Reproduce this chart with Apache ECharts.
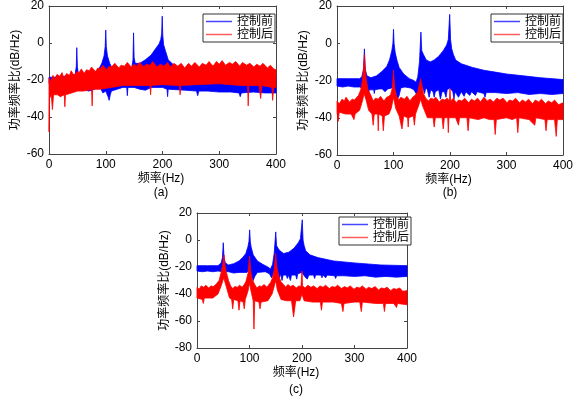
<!DOCTYPE html>
<html>
<head>
<meta charset="utf-8">
<script src="https://cdn.jsdelivr.net/npm/echarts@6/dist/echarts.min.js"></script>
<style>
  html, body { margin: 0; padding: 0; background: #fff; }
  #chart { width: 577px; height: 398px; }
</style>
</head>
<body>
<div id="chart"></div>
<script>
// 频率(Hz) 刻度
var freqTicks = [0, 100, 200, 300, 400];
var seriesNames = ['控制前', '控制后'];
var panelLabels = ['(a)', '(b)', '(c)'];

// 每条谱线的上、下包络 [频率, dB/Hz]
// (a)
var aBlueHi = [[0,-18.5],[10,-18.5],[20,-18],[30,-18],[40,-17.5],[46,-17],[48,-13],[49,-2.5],[50,-13],[52,-17],[60,-17],[70,-16.5],[80,-16],[88,-14],[93,-11],[97,-7],[99,-2],[100,7],[101,-2],[103,-7],[107,-11],[112,-14],[120,-15],[130,-15],[140,-15],[146,-13],[148,-9],[149,5.5],[150,-8],[152,-11],[160,-11],[170,-9],[180,-6.5],[188,-3],[194,-0.5],[197,2],[198.5,5],[199.5,14.5],[200.5,4],[202,-1],[205,-4],[210,-9],[220,-12],[230,-13.5],[250,-15],[280,-16],[320,-17],[360,-18],[400,-18.5]];
var aBlueLo = [[0,-22],[10,-23],[20,-24],[30,-25],[40,-25],[50,-25],[60,-25],[70,-26],[80,-25],[90,-24],[95,-27],[100,-26],[104,-29],[106,-31],[108,-28],[110,-26],[120,-25],[130,-24],[137,-24],[138,-28.5],[139,-24],[150,-24],[160,-25],[170,-25.5],[180,-24],[200,-24],[208,-25],[209,-29],[210,-25],[240,-25.5],[260,-26],[262,-28.5],[264,-26],[280,-26],[300,-26.5],[320,-26.5],[335,-27],[337,-29],[339,-27],[360,-26.5],[380,-27],[400,-27]];
var aRedHi = [[0,-19],[3,-20.5],[7,-17.5],[10,-19.5],[14,-17],[19,-18],[23,-16],[26,-19],[31,-16.5],[36,-17.5],[39,-15],[44,-17.5],[49,-15.5],[53,-16],[57,-14],[62,-16.5],[66,-14.5],[71,-15],[75,-13],[82,-15.5],[86,-13.5],[90,-14],[95,-12],[101,-14.5],[106,-12.5],[110,-13],[116,-11],[123,-13.5],[127,-12],[133,-12.5],[138,-10.5],[145,-13],[150,-11.5],[154,-12.5],[160,-10.5],[167,-13],[171,-11.5],[178,-12],[183,-10],[190,-13],[196,-11.5],[203,-12.5],[209,-10.5],[214,-13],[220,-11],[227,-12.5],[233,-11],[239,-13.5],[246,-11],[251,-12.5],[257,-10.5],[265,-13],[270,-11],[277,-12],[282,-10],[289,-12.5],[295,-10],[300,-11.5],[305,-9.5],[311,-12],[318,-10.5],[323,-11.5],[329,-10],[336,-12.5],[341,-10.5],[348,-12],[354,-11],[361,-13],[366,-11.5],[372,-12.5],[377,-11],[385,-13.5],[390,-12],[396,-14],[400,-14.5]];
var aRedLo = [[0,-48],[1,-30],[4,-28],[6,-36],[8,-28],[15,-28],[20,-29],[27,-28],[28,-34.5],[29,-28],[40,-27],[50,-26],[60,-26],[70,-25.5],[75,-25],[76,-34],[77,-25],[90,-25],[110,-24],[130,-23],[150,-23],[170,-23],[178,-23],[179,-28],[180,-23],[200,-22.5],[230,-23],[231,-28],[232,-23],[260,-22.5],[300,-22],[320,-22.5],[340,-23],[350,-23],[351,-34],[352,-23],[370,-23],[373,-30],[375,-23],[393,-24],[394,-31],[396,-24],[400,-24]];
// (b)
var bBlueHi = [[0,-19],[20,-19],[40,-19],[44,-18],[47,-14],[48.5,-3],[50,-14],[53,-17.5],[60,-18.5],[70,-17.5],[80,-15],[88,-12.5],[93,-9],[97,-4],[99,0],[100,7.5],[101,0],[103,-5],[106,-9],[110,-13],[118,-16.5],[128,-19],[136,-20],[140,-21],[143,-18],[146,-10],[148.5,6],[150,-4],[153,-6],[158,-9],[165,-10],[172,-9],[180,-7],[188,-4],[194,-1],[197,2],[199.5,15.5],[201,2],[203,-3],[206,-6],[210,-9],[220,-11],[240,-13],[260,-14.5],[280,-15.5],[300,-16.5],[330,-17.5],[360,-18.5],[400,-19.5]];
var bBlueLo = [[0,-23],[10,-23.5],[20,-23],[30,-23.5],[40,-23.5],[45,-24],[50,-24],[55,-25],[56,-27],[57,-25],[65,-25],[66,-27],[67,-25],[75,-24.5],[80,-24.5],[85,-26],[90,-24.5],[97,-24],[100,-22],[104,-26],[107,-30],[110,-28],[113,-24],[120,-23.5],[130,-24],[136,-25],[140,-27],[142,-28],[145,-25],[148,-22],[152,-24],[155,-27],[157,-24],[160,-25],[163,-29],[166,-25],[170,-26],[172,-29],[174,-26],[180,-25],[183,-30],[186,-26],[190,-26],[193,-29],[195,-25],[200,-24],[205,-26],[207,-30],[209,-26],[215,-29],[220,-26],[225,-28.5],[228,-26],[235,-28],[238,-26],[245,-28],[248,-26],[260,-27],[262,-29],[264,-26.5],[280,-26.5],[300,-27],[320,-26.5],[340,-27.5],[360,-27],[380,-27.5],[400,-27]];
var bRedHi = [[0,-31],[4,-32.5],[9,-30],[13,-31],[16,-29],[22,-31.5],[27,-30],[31,-30.5],[35,-29],[38,-28],[42,-25],[45,-20],[47,-13],[48.5,-6],[50,-14],[52,-20],[55,-25],[60,-28],[64,-31],[68,-29.5],[73,-30],[77,-28.5],[83,-31],[88,-29],[92,-28.5],[95,-27.5],[98,-24],[100,-14.5],[102,-24],[105,-28],[109,-30.5],[113,-29],[119,-30],[124,-28.5],[129,-31],[134,-29],[138,-28],[143,-26],[146,-22],[148,-19],[150,-22],[153,-27],[157,-29.5],[162,-31],[166,-29.5],[171,-30],[175,-29],[181,-31.5],[186,-30],[191,-30.5],[195,-29.5],[199,-31],[200,-24.5],[201,-31],[206,-29.5],[211,-32],[215,-30.5],[221,-31],[226,-29.5],[233,-32],[238,-30],[243,-31],[249,-29.5],[254,-31.5],[260,-29],[266,-31],[271,-30],[277,-31.5],[283,-29.5],[288,-30.5],[294,-29.5],[301,-32],[305,-30.5],[311,-31],[316,-29.5],[323,-32],[328,-30.5],[334,-31.5],[339,-30],[346,-32.5],[351,-30.5],[357,-31.5],[362,-30],[369,-32.5],[374,-31],[380,-32],[385,-30.5],[392,-33],[400,-32]];
var bRedLo = [[0,-37],[2,-42],[4,-37],[15,-38],[25,-38],[30,-41],[32,-38],[40,-36],[45,-31],[48,-27],[52,-31],[56,-36],[62,-38],[64,-44],[66,-38],[72,-38],[73,-47],[74,-38],[80,-39],[82,-47],[84,-39],[92,-38],[96,-35],[100,-29],[104,-35],[110,-39],[115,-46],[118,-39],[125,-40],[126,-45],[127,-40],[135,-39],[137,-44],[139,-38],[145,-33],[148,-30],[152,-34],[160,-40],[170,-40],[172,-45],[174,-40],[186,-40],[188,-46],[190,-40],[196,-40],[197,-48],[198,-40],[210,-40],[215,-44],[217,-40],[230,-40],[232,-47],[234,-40],[250,-41],[260,-40],[270,-41],[278,-41],[280,-49],[282,-41],[300,-40],[310,-41],[318,-40],[320,-48],[322,-40],[340,-41],[350,-44],[352,-40],[368,-41],[370,-47],[372,-41],[385,-41],[388,-50],[390,-41],[400,-41]];
// (c)
var cBlueHi = [[0,-19],[20,-19],[40,-19],[46,-17],[48.5,-13],[50,-2],[51.5,-13],[54,-17],[60,-18.5],[70,-17.5],[80,-15.5],[87,-13],[93,-10],[97,-5],[99,-1],[100.3,7.5],[101.5,-1],[103,-5],[107,-11],[115,-15.5],[125,-18],[135,-20],[140,-21.5],[144,-18],[147,-10],[150,6],[151.5,-4],[154,-6],[158,-8],[165,-10],[175,-9],[185,-6],[193,-2],[197,1],[200.5,15],[202,0],[204,-4],[207,-8],[215,-11],[230,-13],[260,-15.5],[300,-17],[350,-18.5],[400,-19]];
var cBlueLo = [[0,-23],[10,-23.5],[20,-23],[30,-23.5],[40,-23],[50,-23.5],[60,-23.5],[70,-24.5],[80,-24],[95,-24],[100,-22],[104,-27],[107,-30],[110,-27],[115,-24],[130,-23.5],[138,-25],[142,-28],[145,-25],[150,-22],[155,-25],[157,-28],[159,-25],[162,-30],[164,-26],[170,-26],[172,-28.5],[174,-26],[178,-30],[180,-26],[188,-26],[190,-29],[192,-25],[200,-24],[205,-27],[210,-29],[213,-26],[222,-26],[224,-28.5],[226,-26],[236,-26],[238,-28],[240,-26],[245,-28],[248,-26],[262,-26.5],[264,-28.5],[266,-26.5],[280,-26.5],[300,-27],[320,-26.5],[340,-27.5],[360,-27],[380,-27.5],[400,-27]];
var cRedHi = [[0,-35],[4,-36.5],[8,-34],[13,-35],[17,-33.5],[22,-35.5],[27,-34],[31,-34.5],[36,-33],[42,-30],[46,-24],[49,-18],[51.5,-11],[53,-18],[56,-24],[60,-30],[64,-34],[68,-36],[72,-34.5],[77,-35],[81,-33.5],[86,-35],[90,-33],[93,-31],[97,-25],[100.3,-12],[102,-22],[105,-29],[110,-33],[114,-35.5],[119,-34],[123,-34.5],[128,-33],[133,-35],[136,-33.5],[140,-31.5],[144,-28],[147,-22],[150,-10],[152,-20],[156,-27],[160,-31],[165,-33],[169,-35],[173,-33],[178,-34.5],[183,-33.5],[189,-35.5],[194,-34],[198,-34.5],[200,-23],[201,-34],[206,-35.5],[211,-33.5],[217,-35],[222,-34],[229,-36],[234,-34],[240,-35],[245,-33.5],[252,-36],[257,-34.5],[263,-35],[268,-33.5],[275,-36],[281,-34.5],[286,-35.5],[292,-34],[299,-36.5],[304,-35],[310,-35.5],[315,-34],[322,-36.5],[327,-35],[333,-36],[339,-34.5],[346,-37],[351,-35.5],[357,-36],[362,-35],[369,-37.5],[374,-36],[380,-36.5],[386,-35.5],[392,-38],[400,-37.5]];
var cRedLo = [[0,-43],[10,-44],[12,-47],[14,-43],[30,-43],[40,-40],[46,-34],[51,-28],[56,-35],[62,-43],[66,-44],[68,-51],[70,-44],[78,-45],[80,-52],[82,-45],[88,-46],[90,-51],[92,-44],[97,-38],[100,-32],[103,-38],[107,-45],[108.5,-66],[110,-45],[118,-46],[120,-51],[122,-46],[135,-45],[143,-40],[148,-33],[150,-30],[153,-37],[160,-44],[170,-45],[180,-45],[184,-57],[188,-45],[196,-45],[200,-40],[204,-45],[220,-46],[235,-46],[237,-52],[239,-46],[260,-46],[275,-47],[278,-53],[280,-47],[300,-46],[310,-46],[313,-53],[315,-46],[340,-47],[355,-47],[357,-53],[359,-47],[375,-47],[380,-50],[382,-47],[400,-48]];

// y 轴范围
var yMin = [-60, -60, -80];
var yMax = 20;

var font = "'Liberation Sans', 'Noto Sans CJK SC', sans-serif";
var blue = '#0000ff';
var red = '#ff0000';

var grids = [
  {left: 49, top: 6, width: 227, height: 148},
  {left: 337, top: 6, width: 226, height: 149},
  {left: 197, top: 213, width: 210, height: 135}
];
var yNameGap = [27, 27, 20];
var legendPos = [[203, 14], [491, 14], [339, 217]];
var labelPos = [[161, 193], [450, 193], [296, 390]];

// 用上、下包络围成的多边形表示密集的谱线
function band(name, color, hi, lo, gi) {
  return {
    type: 'custom',
    name: name,
    coordinateSystem: 'cartesian2d',
    xAxisIndex: gi,
    yAxisIndex: gi,
    silent: true,
    itemStyle: {color: color},
    data: hi,
    renderItem: function (params, api) {
      if (params.dataIndex !== 0) return;
      var pts = hi.concat(lo.slice().reverse()).map(function (p) {
        return api.coord(p);
      });
      return {
        type: 'polygon',
        shape: {points: pts},
        style: {fill: color, stroke: color, lineWidth: 0.8}
      };
    }
  };
}

var axisLine = {onZero: false, lineStyle: {color: '#444'}};
var axisTick = {inside: true, length: 3, lineStyle: {color: '#444'}};

var xAxes = [], yAxes = [], legends = [], graphics = [];
for (var i = 0; i < 3; i++) {
  xAxes.push({
    type: 'value', gridIndex: i, position: 'bottom', min: 0, max: 400, interval: 100,
    name: '频率(Hz)', nameLocation: 'middle', nameGap: 19,
    nameTextStyle: {fontFamily: font, fontSize: 12, color: '#000', padding: i === 2 ? [0, 12, 0, 0] : [0, 3, 0, 0]},
    axisLine: axisLine, axisTick: axisTick,
    axisLabel: {fontFamily: font, fontSize: 12, color: '#000', margin: 5},
    splitLine: {show: false}
  });
  yAxes.push({
    type: 'value', gridIndex: i, position: 'left', min: yMin[i], max: yMax, interval: 20,
    name: '功率频率比(dB/Hz)', nameLocation: 'middle', nameGap: yNameGap[i],
    nameTextStyle: {fontFamily: font, fontSize: 12, color: '#000'},
    axisLine: axisLine, axisTick: axisTick,
    axisLabel: {fontFamily: font, fontSize: 12, color: '#000', margin: 5},
    splitLine: {show: false}
  });
  legends.push({
    left: legendPos[i][0], top: legendPos[i][1],
    orient: 'vertical', itemGap: 0, itemWidth: 26, itemHeight: 1.5,
    padding: [1, 2, 1, 3],
    backgroundColor: '#fff', borderColor: '#333', borderWidth: 1, borderRadius: 0,
    textStyle: {fontFamily: font, fontSize: 12, lineHeight: 13, color: '#000'},
    data: [
      {name: seriesNames[0], icon: 'rect', itemStyle: {color: '#4646ff'}},
      {name: seriesNames[1], icon: 'rect', itemStyle: {color: '#ff5c5c'}}
    ]
  });
  graphics.push({
    type: 'text', x: labelPos[i][0], y: labelPos[i][1],
    style: {text: panelLabels[i], font: '12px ' + font, fill: '#000', align: 'center', verticalAlign: 'middle'}
  });
}
// 顶部与右侧的刻度框线
for (var j = 0; j < 3; j++) {
  xAxes.push({
    type: 'value', gridIndex: j, position: 'top', min: 0, max: 400, interval: 100,
    axisLine: axisLine, axisTick: axisTick,
    axisLabel: {show: false}, splitLine: {show: false}
  });
  yAxes.push({
    type: 'value', gridIndex: j, position: 'right', min: yMin[j], max: yMax, interval: 20,
    axisLine: axisLine, axisTick: axisTick,
    axisLabel: {show: false}, splitLine: {show: false}
  });
}

var option = {
  animation: false,
  backgroundColor: '#fff',
  grid: grids,
  xAxis: xAxes,
  yAxis: yAxes,
  legend: legends,
  graphic: graphics,
  series: [
    band(seriesNames[0], blue, aBlueHi, aBlueLo, 0),
    band(seriesNames[1], red, aRedHi, aRedLo, 0),
    band(seriesNames[0], blue, bBlueHi, bBlueLo, 1),
    band(seriesNames[1], red, bRedHi, bRedLo, 1),
    band(seriesNames[0], blue, cBlueHi, cBlueLo, 2),
    band(seriesNames[1], red, cRedHi, cRedLo, 2)
  ]
};

var chart = echarts.init(document.getElementById('chart'));
chart.setOption(option);
</script>
</body>
</html>
